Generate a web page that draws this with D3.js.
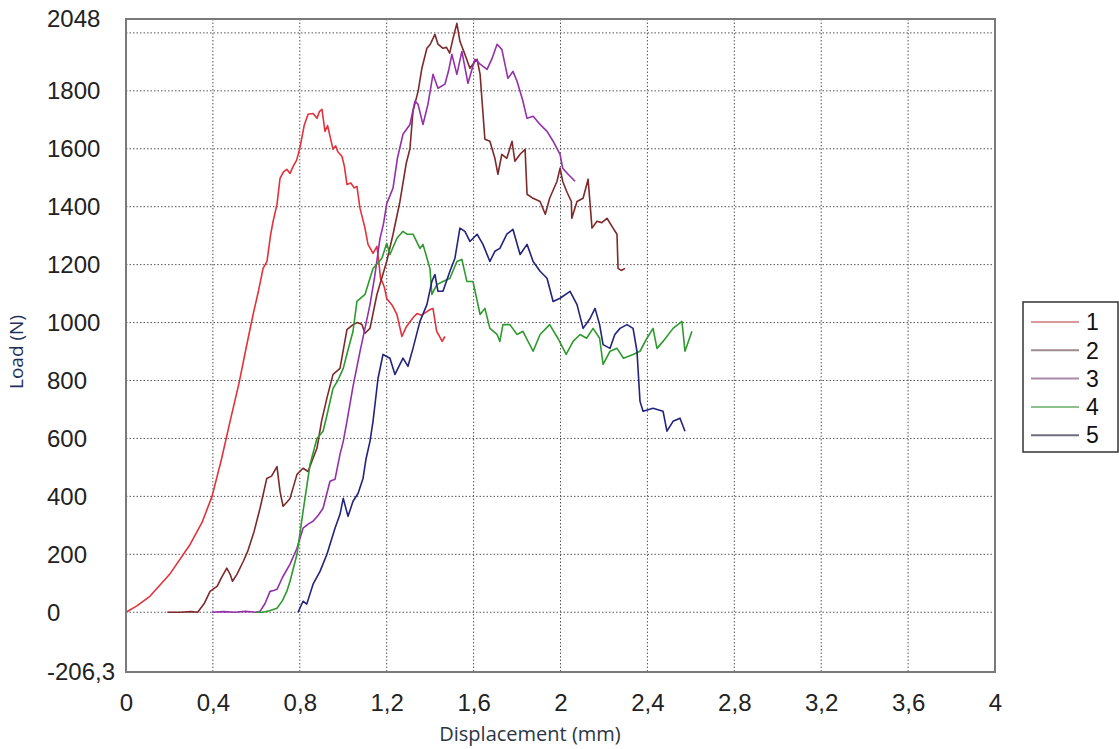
<!DOCTYPE html>
<html>
<head>
<meta charset="utf-8">
<script src="https://cdn.jsdelivr.net/npm/d3@7"></script>
<style>
  html, body { margin: 0; padding: 0; background: #fff; }
  svg { display: block; }
</style>
</head>
<body>
<svg id="chart" width="1119" height="749"></svg>
<script>
// ---------- DATA ----------
const seriesNames = ["1", "2", "3", "4", "5"];

const x1 = [0,0.05,0.11,0.2,0.295,0.35,0.396,0.44,0.479,0.52,0.555,0.585,0.61,0.631,0.649,0.665,0.677,0.695,0.709,0.725,0.74,0.755,0.77,0.785,0.8,0.82,0.838,0.861,0.879,0.89,0.902,0.916,0.928,0.94,0.953,0.965,0.975,0.994,1.005,1.017,1.035,1.05,1.063,1.077,1.1,1.114,1.137,1.155,1.165,1.172,1.18,1.19,1.2,1.225,1.247,1.26,1.27,1.29,1.307,1.325,1.34,1.36,1.385,1.4,1.413,1.43,1.445,1.455,1.468];
const y1 = [0,22,55,130,234,310,400,530,659,790,920,1028,1110,1187,1211,1300,1349,1408,1498,1520,1529,1515,1540,1560,1601,1680,1719,1722,1705,1728,1736,1660,1680,1640,1598,1610,1590,1574,1540,1477,1482,1465,1470,1395,1326,1270,1239,1263,1200,1150,1140,1120,1083,1060,1028,985,952,985,1003,1020,1031,1025,1038,1045,1049,970,950,935,952];

const x2 = [0.19,0.25,0.3,0.33,0.36,0.387,0.4,0.42,0.44,0.464,0.48,0.49,0.51,0.54,0.56,0.59,0.617,0.648,0.67,0.695,0.709,0.723,0.74,0.755,0.787,0.815,0.838,0.86,0.879,0.9,0.925,0.953,0.985,1.017,1.045,1.065,1.086,1.1,1.123,1.155,1.2,1.229,1.261,1.29,1.307,1.321,1.345,1.362,1.385,1.4,1.422,1.436,1.459,1.475,1.49,1.505,1.523,1.537,1.56,1.583,1.6,1.616,1.63,1.639,1.652,1.675,1.698,1.712,1.73,1.753,1.777,1.79,1.814,1.837,1.846,1.874,1.906,1.93,1.95,1.984,1.998,2.01,2.03,2.05,2.052,2.076,2.104,2.127,2.145,2.168,2.19,2.214,2.242,2.26,2.265,2.28,2.297];
const y2 = [0,0,2,0,30,72,79,90,120,152,130,107,130,176,210,280,359,462,470,503,417,366,380,393,476,497,486,530,566,659,740,821,842,976,993,1000,993,963,980,1097,1211,1304,1418,1550,1600,1729,1800,1878,1947,1960,1995,1961,1947,1950,1930,1980,2033,1971,1926,1878,1895,1909,1857,1764,1633,1626,1567,1512,1581,1567,1626,1557,1581,1598,1443,1429,1418,1374,1429,1488,1533,1488,1450,1418,1360,1418,1429,1495,1326,1350,1345,1360,1326,1305,1187,1180,1187];

const x3 = [0.396,0.45,0.5,0.55,0.6,0.617,0.64,0.663,0.68,0.695,0.72,0.755,0.787,0.815,0.84,0.861,0.885,0.907,0.939,0.962,0.985,1.0,1.017,1.045,1.077,1.1,1.123,1.145,1.169,1.185,1.2,1.229,1.25,1.275,1.307,1.33,1.344,1.367,1.39,1.413,1.436,1.468,1.485,1.5,1.523,1.546,1.574,1.606,1.63,1.662,1.685,1.708,1.73,1.758,1.781,1.8,1.825,1.846,1.874,1.906,1.938,1.966,1.998,2.01,2.035,2.067];
const y3 = [0,2,0,3,0,3,30,72,75,79,120,166,221,290,305,314,335,359,452,459,545,590,659,780,900,980,1062,1160,1290,1340,1410,1464,1570,1650,1684,1764,1754,1684,1754,1857,1809,1823,1870,1926,1857,1936,1826,1909,1892,1874,1912,1961,1943,1843,1867,1833,1770,1705,1712,1684,1660,1626,1581,1533,1512,1488];

const x4 = [0.6,0.63,0.66,0.695,0.72,0.74,0.755,0.787,0.815,0.847,0.879,0.907,0.925,0.953,0.975,1.0,1.02,1.045,1.063,1.1,1.137,1.178,1.2,1.215,1.247,1.275,1.293,1.321,1.353,1.367,1.399,1.408,1.431,1.459,1.491,1.523,1.546,1.569,1.597,1.63,1.652,1.675,1.708,1.721,1.735,1.767,1.8,1.827,1.874,1.906,1.95,1.988,2.026,2.058,2.09,2.12,2.15,2.18,2.196,2.228,2.26,2.29,2.334,2.366,2.398,2.426,2.444,2.472,2.518,2.559,2.573,2.605];
const y4 = [0,0,5,14,40,72,107,200,348,510,600,625,680,773,800,842,900,970,1073,1097,1187,1222,1274,1235,1291,1315,1305,1305,1256,1270,1187,1097,1131,1142,1153,1211,1218,1142,1142,1028,1049,980,959,935,993,993,959,970,901,959,993,946,890,935,959,946,980,946,856,901,911,877,890,901,946,980,911,935,980,1004,901,970];

const x5 = [0.792,0.815,0.832,0.861,0.893,0.925,0.962,0.985,1.0,1.022,1.045,1.068,1.091,1.105,1.123,1.137,1.16,1.183,1.215,1.238,1.275,1.298,1.321,1.353,1.385,1.408,1.422,1.436,1.459,1.491,1.514,1.537,1.56,1.583,1.616,1.643,1.675,1.698,1.721,1.753,1.781,1.814,1.846,1.874,1.906,1.938,1.966,1.998,2.044,2.076,2.104,2.136,2.159,2.18,2.196,2.228,2.25,2.274,2.306,2.334,2.352,2.366,2.38,2.426,2.472,2.49,2.518,2.55,2.573];
const y5 = [0,38,28,97,141,200,290,338,393,331,383,410,462,530,590,659,807,890,877,821,877,849,911,1004,1062,1142,1166,1108,1108,1177,1222,1326,1315,1280,1305,1270,1211,1246,1256,1305,1322,1235,1270,1211,1177,1153,1073,1084,1108,1062,980,1014,1049,993,924,911,959,980,993,980,901,728,694,704,694,625,659,670,625];

const xTicks = [0,0.4,0.8,1.2,1.6,2,2.4,2.8,3.2,3.6,4];
const yGrid = [0,200,400,600,800,1000,1200,1400,1600,1800,2000];
const yLabels = [-206.3,0,200,400,600,800,1000,1200,1400,1600,1800,2048];

const seriesX = [x1,x2,x3,x4,x5];
const seriesY = [y1,y2,y3,y4,y5];
const colors = ["#e2323c", "#7e2a2a", "#9430aa", "#2e9a2e", "#22237c"];
const legendColors = ["#d89a9a", "#a08a8e", "#a88aa8", "#8cc08c", "#6e6e7c"];

// ---------- LAYOUT ----------
const svg = d3.select("#chart");
const L = 126, R = 995, T = 19, B = 672;

const x = d3.scaleLinear().domain([0, 4]).range([L, R]);
const y = d3.scaleLinear().domain([-206.3, 2048]).range([B, T]);

const fmt = v => String(v).replace(".", ",");

// grid
const grid = svg.append("g");
grid.selectAll(".vg").data(xTicks.filter(d => d > 0 && d < 4)).enter().append("line")
  .attr("x1", d => x(d)).attr("x2", d => x(d)).attr("y1", T).attr("y2", B)
  .attr("stroke", "#555").attr("stroke-width", 1).attr("stroke-dasharray", "1.5,2");
grid.selectAll(".hg").data(yGrid).enter().append("line")
  .attr("x1", L).attr("x2", R).attr("y1", d => y(d)).attr("y2", d => y(d))
  .attr("stroke", "#555").attr("stroke-width", 1).attr("stroke-dasharray", "1.5,2");

// x axis labels
const xAxis = d3.axisBottom(x).tickValues(xTicks).tickSize(0).tickPadding(20).tickFormat(fmt);
const gx = svg.append("g").attr("transform", `translate(0,${B})`).call(xAxis);
gx.select(".domain").remove();
gx.selectAll("text").attr("font-family", "Liberation Sans, Arial, sans-serif")
  .attr("font-size", 24).attr("fill", "#222").attr("dy", "0.8em");

// y axis labels (left aligned)
svg.append("g").selectAll("text").data(yLabels).enter().append("text")
  .attr("x", 47).attr("y", d => y(d)).attr("dy", "0.35em")
  .attr("font-family", "Liberation Sans, Arial, sans-serif").attr("font-size", 24)
  .attr("fill", "#222").attr("text-anchor", "start").text(fmt);

// lines
const line = d3.line().x(d => x(d[0])).y(d => y(d[1]));
seriesX.forEach((xs, i) => {
  const pts = xs.map((v, j) => [v, seriesY[i][j]]);
  svg.append("path").datum(pts).attr("d", line)
    .attr("fill", "none").attr("stroke", colors[i]).attr("stroke-width", 1.6)
    .attr("stroke-linejoin", "round");
});

// frame
svg.append("rect").attr("x", L).attr("y", T).attr("width", R - L).attr("height", B - T)
  .attr("fill", "none").attr("stroke", "#7a7a7a").attr("stroke-width", 2);

// axis titles
svg.append("text").attr("x", 530).attr("y", 741)
  .attr("text-anchor", "middle").attr("font-family", "Open Sans, sans-serif")
  .attr("font-size", 20).attr("fill", "#2b3645").text("Displacement (mm)");
svg.append("text").attr("transform", "translate(23,352) rotate(-90)")
  .attr("text-anchor", "middle").attr("font-family", "Open Sans, sans-serif")
  .attr("font-size", 19).attr("fill", "#1f3158").text("Load (N)");

// legend
const lg = svg.append("g");
lg.append("rect").attr("x", 1023).attr("y", 302).attr("width", 95).attr("height", 150)
  .attr("fill", "#fff").attr("stroke", "#333").attr("stroke-width", 1.5);
seriesNames.forEach((n, i) => {
  const yy = 322 + i * 28.3;
  lg.append("line").attr("x1", 1031).attr("x2", 1079).attr("y1", yy).attr("y2", yy)
    .attr("stroke", legendColors[i]).attr("stroke-width", 2);
  lg.append("text").attr("x", 1086).attr("y", yy).attr("dy", "0.36em")
    .attr("font-family", "Liberation Sans, Arial, sans-serif").attr("font-size", 23)
    .attr("fill", "#111").text(n);
});
</script>
</body>
</html>
